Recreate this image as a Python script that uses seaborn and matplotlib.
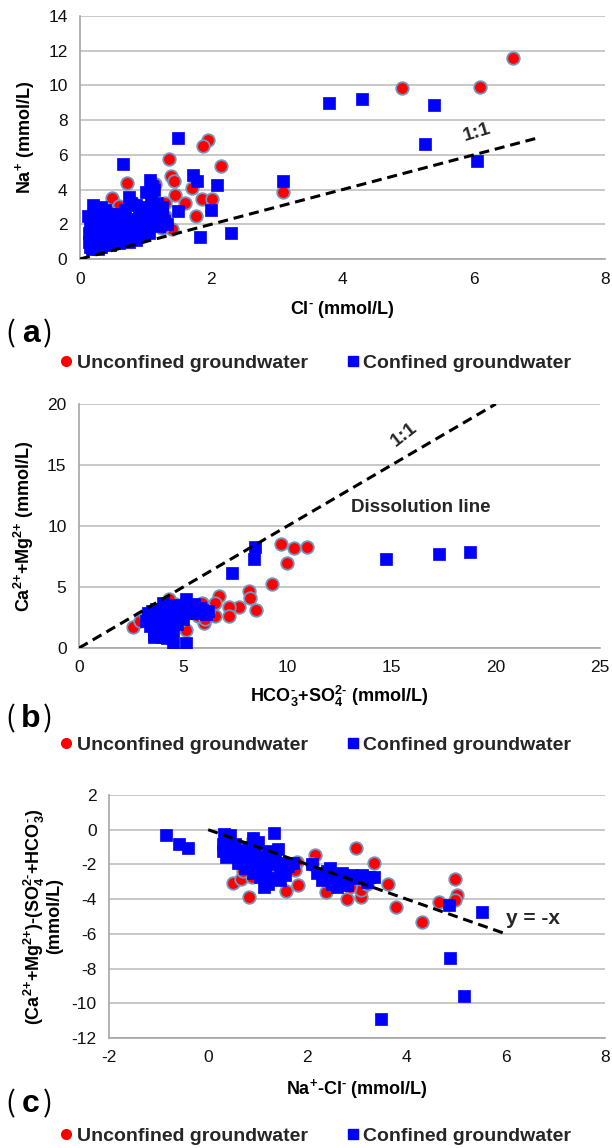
import matplotlib
matplotlib.use("Agg")
import matplotlib.pyplot as plt
from matplotlib.lines import Line2D
import seaborn as sns
import pandas as pd

# ---------------- data ----------------
# Panel (a): Cl- vs Na+
a_unconf = [(6.6, 11.6), (4.9, 9.85), (6.1, 9.9), (3.1, 3.85), (1.95, 6.85), (1.88, 6.5),
            (2.15, 5.35), (1.35, 5.75), (1.38, 4.8), (1.43, 4.5), (0.72, 4.4), (1.45, 3.7),
            (0.49, 3.5), (1.86, 3.45), (2.01, 3.45), (1.76, 2.48), (1.6, 3.25), (1.3, 3.25),
            (0.59, 3.05), (0.44, 2.75), (1.4, 1.7), (1.25, 1.8), (1.3, 2.5), (0.8, 3.25),
            (1.7, 4.1), (1.15, 4.3), (0.9, 2.1), (0.55, 1.9), (0.35, 1.5), (0.65, 2.2),
            (1.05, 2.6), (0.3, 0.9), (0.5, 1.2), (1.2, 2.2), (0.95, 1.5)]
a_conf = [(1.5, 7.0), (0.65, 5.5), (3.1, 4.5), (3.8, 9.0), (4.3, 9.2), (5.4, 8.85), (5.25, 6.6),
          (6.05, 5.65), (1.72, 4.85), (1.78, 4.5), (2.08, 4.25), (1.99, 2.85), (1.83, 1.28),
          (2.3, 1.5), (1.5, 2.75), (1.07, 4.55), (1.1, 4.2), (1.0, 3.85), (0.75, 3.6),
          (0.78, 3.25), (1.25, 2.6),
          (0.12, 2.45), (0.15, 2.0), (0.14, 1.5), (0.13, 1.0), (0.15, 0.7), (0.2, 0.85),
          (0.22, 1.3), (0.25, 1.8), (0.24, 2.3), (0.28, 2.7), (0.32, 3.0), (0.38, 2.85),
          (0.3, 1.0), (0.32, 0.7), (0.35, 1.5), (0.4, 2.0), (0.42, 1.2), (0.45, 0.8),
          (0.48, 1.7), (0.52, 2.2), (0.55, 1.0), (0.58, 1.4), (0.6, 0.9), (0.62, 1.9),
          (0.65, 1.2), (0.7, 1.6), (0.72, 2.3), (0.75, 1.0), (0.78, 1.3), (0.82, 2.0),
          (0.85, 1.1), (0.88, 1.6), (0.9, 2.6), (0.95, 1.4), (0.98, 1.8), (1.0, 2.3),
          (1.02, 3.0), (1.05, 1.5), (1.08, 3.5), (1.1, 2.0), (1.12, 4.0), (1.15, 2.6),
          (1.18, 3.2), (1.2, 1.9), (1.22, 2.4), (1.25, 3.0), (1.28, 2.2), (1.32, 2.0),
          (0.68, 2.8), (0.85, 3.1), (0.6, 2.6), (0.45, 2.6), (0.18, 0.6), (0.28, 0.55),
          (0.2, 3.1)]
a_line_x = [0, 7]
a_line_y = [0, 7]

# Panel (b): HCO3- + SO4 2- vs Ca2+ + Mg2+
b_unconf = [(9.67, 8.52), (10.3, 8.2), (10.95, 8.28), (9.98, 6.97), (9.24, 5.27), (8.18, 4.64),
            (8.2, 4.1), (8.5, 3.14), (7.66, 3.4), (7.2, 3.4), (7.19, 2.6), (6.73, 4.23),
            (6.54, 3.69), (6.54, 2.6), (5.98, 2.05), (5.7, 2.6), (5.15, 1.5), (2.6, 1.72),
            (2.95, 2.19), (5.9, 3.7), (5.4, 3.3), (4.6, 3.6), (4.3, 4.0), (3.5, 2.5),
            (6.2, 3.0), (4.9, 2.3), (3.2, 2.6), (6.06, 2.36)]
b_conf = [(18.75, 7.84), (17.27, 7.7), (14.72, 7.32), (8.46, 8.28), (8.4, 7.32), (7.32, 6.15),
          (5.15, 4.0), (5.15, 0.41), (4.5, 0.1), (4.03, 3.7), (6.08, 2.75), (6.2, 3.0),
          (5.8, 3.3), (5.5, 3.6), (5.3, 2.9), (4.9, 3.2), (4.6, 3.5), (4.3, 3.4), (4.1, 3.1),
          (3.9, 2.8), (3.7, 3.2), (3.5, 3.0), (3.3, 2.6), (3.2, 2.2), (3.4, 1.8), (3.6, 1.5),
          (3.8, 1.2), (4.0, 0.9), (4.2, 1.3), (4.4, 1.7), (4.7, 2.0), (5.0, 2.4), (3.5, 2.4),
          (3.7, 2.0), (3.9, 1.6), (4.1, 2.2), (4.3, 2.6), (4.5, 1.1), (3.6, 0.9), (3.8, 2.5),
          (4.0, 1.9), (4.2, 2.9), (4.4, 2.3), (4.6, 2.7), (4.8, 3.0), (5.6, 2.9), (5.9, 3.1),
          (3.3, 2.9), (3.6, 1.1), (4.2, 0.8)]
b_line_x = [0, 20]
b_line_y = [0, 20]

# Panel (c): Na+ - Cl- vs (Ca+Mg)-(SO4+HCO3)
c_unconf = [(2.98, -1.06), (4.97, -2.82), (3.35, -1.92), (2.16, -1.44), (3.62, -3.11),
            (3.78, -4.45), (4.32, -5.32), (4.66, -4.17), (5.02, -3.78), (4.98, -4.03),
            (2.8, -3.97), (3.08, -3.88), (3.08, -3.49), (2.38, -3.59), (1.81, -3.17),
            (1.56, -3.53), (0.51, -3.07), (0.83, -3.88), (0.66, -2.82), (0.88, -2.73),
            (1.79, -1.86), (0.9, -0.52), (2.1, -2.0), (1.75, -2.3), (2.85, -3.3),
            (3.2, -3.1), (1.2, -2.5), (0.7, -2.4), (2.6, -3.0), (1.3, -2.0)]
c_conf = [(-0.86, -0.33), (-0.58, -0.8), (-0.41, -1.04), (4.85, -4.36), (5.53, -4.74),
          (4.87, -7.37), (5.16, -9.56), (3.48, -10.92), (1.32, -0.19), (0.31, -0.23),
          (0.43, -0.33), (3.35, -2.73), (1.13, -3.3), (1.44, -2.9),
          (0.3, -0.8), (0.3, -1.2), (0.35, -1.6), (0.45, -1.0), (0.5, -1.4), (0.55, -0.8),
          (0.6, -1.9), (0.65, -1.2), (0.7, -1.6), (0.75, -2.2), (0.8, -1.0), (0.85, -1.8),
          (0.9, -2.5), (0.95, -1.4), (1.0, -2.0), (1.0, -0.7), (1.05, -2.7), (1.1, -1.6),
          (1.15, -2.3), (1.2, -1.2), (1.25, -2.0), (1.3, -2.8), (1.35, -1.6), (1.4, -1.1),
          (1.45, -2.3), (1.5, -1.9), (1.55, -2.6), (1.6, -2.1), (1.7, -1.9), (1.2, -3.1),
          (0.9, -0.5),
          (2.1, -2.0), (2.2, -2.5), (2.3, -2.9), (2.4, -2.4), (2.5, -3.1), (2.55, -2.7),
          (2.6, -3.3), (2.7, -2.5), (2.75, -2.9), (2.8, -3.2), (2.9, -2.6), (3.0, -2.8),
          (3.1, -2.6), (3.2, -3.0), (3.25, -2.7), (2.45, -2.2)]
c_line_x = [0, 6]
c_line_y = [0, -6]

a_xticks = [0, 2, 4, 6, 8]
a_yticks = [0, 2, 4, 6, 8, 10, 12, 14]
b_xticks = [0, 5, 10, 15, 20, 25]
b_yticks = [0, 5, 10, 15, 20]
c_xticks = [-2, 0, 2, 4, 6, 8]
c_yticks = [-12, -10, -8, -6, -4, -2, 0, 2]

legend_labels = ["Unconfined groundwater", "Confined groundwater"]

# ---------------- style ----------------
sns.set_theme(style="white")
plt.rcParams['font.family'] = ['Liberation Sans', 'DejaVu Sans']
plt.rcParams['mathtext.fontset'] = 'custom'
plt.rcParams['mathtext.rm'] = 'Liberation Sans'
plt.rcParams['mathtext.bf'] = 'Liberation Sans:bold'
plt.rcParams['mathtext.it'] = 'Liberation Sans:italic'
plt.rcParams['axes.unicode_minus'] = False

W, H = 612, 1148
fig = plt.figure(figsize=(W / 100, H / 100), dpi=100)
fig.patch.set_facecolor('white')

GRID = '#BFBFBF'
SPINE = '#A6A6A6'
RED_EDGE = '#7096C0'
HY = '\u2010'  # short hyphen used as superscript minus


def axes_px(l, t, r, b):
    return fig.add_axes([l / W, 1 - b / H, (r - l) / W, (b - t) / H])


def style(ax, xt, yt):
    ax.set_xticks(xt)
    ax.set_yticks(yt)
    ax.set_xlim(xt[0], xt[-1])
    ax.set_ylim(yt[0], yt[-1])
    ax.grid(axis='y', color=GRID, lw=1.2)
    ax.grid(axis='x', visible=False)
    ax.set_axisbelow(True)
    for s in ['top', 'right']:
        ax.spines[s].set_visible(False)
    for s in ['left', 'bottom']:
        ax.spines[s].set_color(SPINE)
        ax.spines[s].set_linewidth(1.2)
    ax.tick_params(direction='out', length=5, width=1.2, color=SPINE,
                   labelsize=12.5, pad=4, labelcolor='#111111')


def scatter(ax, unconf, conf):
    du = pd.DataFrame(unconf, columns=['x', 'y'])
    dc = pd.DataFrame(conf, columns=['x', 'y'])
    sns.scatterplot(data=du, x='x', y='y', ax=ax, marker='o', color='#FF0000',
                    edgecolor=RED_EDGE, linewidth=1.3, s=82, zorder=3, legend=False)
    sns.scatterplot(data=dc, x='x', y='y', ax=ax, marker='s', color='#0000FF',
                    edgecolor='#0000FF', linewidth=0.5, s=85, zorder=4, legend=False)


def dashed(ax, lx, ly):
    sns.lineplot(x=lx, y=ly, ax=ax, color='black', lw=2.2, zorder=5,
                 linestyle=(0, (3.3, 1.9)), legend=False)


def panel_tag(letter, ypx):
    fig.text(5 / W, 1 - ypx / H, '(', family='Noto Sans CJK SC', fontweight='light',
             fontsize=21, va='center', ha='left', color='black')
    fig.text(31 / W, 1 - ypx / H, letter, fontsize=23, fontweight='bold',
             va='center', ha='center', color='black')
    fig.text(43 / W, 1 - ypx / H, ')', family='Noto Sans CJK SC', fontweight='light',
             fontsize=21, va='center', ha='left', color='black')


def legend_at(ypx):
    handles = [Line2D([], [], marker='o', color='#FF0000', ls='', ms=7),
               Line2D([], [], marker='s', color='#0000FF', ls='', ms=7)]
    fig.legend(handles, legend_labels, loc='center', bbox_to_anchor=(316 / W, 1 - ypx / H),
               ncol=2, frameon=False, handlelength=0.6, handletextpad=0.25,
               columnspacing=2.0, prop={'weight': 'bold', 'size': 14})


LBL = dict(fontsize=13, fontweight='bold', color='black')
P2 = '2{+}'

# ---------------- panel a ----------------
ax = axes_px(80, 16, 605, 259)
style(ax, a_xticks, a_yticks)
dashed(ax, a_line_x, a_line_y)
scatter(ax, a_unconf, a_conf)
ax.set_xlabel('Cl$^{\\mathbf{' + HY + '}}$ (mmol/L)', labelpad=9, **LBL)
ax.set_ylabel(r'Na$^{\mathbf{+}}$ (mmol/L)', labelpad=8, **LBL)
ax.text(6.05, 7.3, '1:1', rotation=17, fontsize=14, fontweight='bold',
        ha='center', va='center')
panel_tag('a', 334)
legend_at(363)

# ---------------- panel b ----------------
ax = axes_px(79, 404, 600, 648)
style(ax, b_xticks, b_yticks)
dashed(ax, b_line_x, b_line_y)
scatter(ax, b_unconf, b_conf)
ax.set_xlabel('HCO$_{\\mathbf{3}}^{\\mathbf{' + HY + '}}$+SO$_{\\mathbf{4}}^{\\mathbf{2' + HY + '}}$ (mmol/L)',
              labelpad=6, **LBL)
ax.set_ylabel('Ca$^{\\mathbf{' + P2 + '}}$+Mg$^{\\mathbf{' + P2 + '}}$ (mmol/L)', labelpad=8, **LBL)
ax.text(15.6, 17.5, '1:1', rotation=38, fontsize=14, fontweight='bold',
        ha='center', va='center')
ax.text(16.4, 11.5, 'Dissolution line', fontsize=13.5, fontweight='bold',
        ha='center', va='center')
panel_tag('b', 719)
legend_at(745)

# ---------------- panel c ----------------
ax = axes_px(109, 795, 605, 1038)
style(ax, c_xticks, c_yticks)
dashed(ax, c_line_x, c_line_y)
scatter(ax, c_unconf, c_conf)
ax.set_xlabel('Na$^{\\mathbf{+}}$-Cl$^{\\mathbf{' + HY + '}}$ (mmol/L)', labelpad=8, **LBL)
ax.set_ylabel('(Ca$^{\\mathbf{' + P2 + '}}$+Mg$^{\\mathbf{' + P2 + '}}$)-(SO$_{\\mathbf{4}}^{\\mathbf{2' + HY +
              '}}$+HCO$_{\\mathbf{3}}^{\\mathbf{' + HY + '}}$)\n(mmol/L)',
              labelpad=6, linespacing=0.95, **LBL)
ax.text(6.0, -5.1, 'y = -x', fontsize=15, fontweight='bold', ha='left', va='center')
panel_tag('c', 1104)
legend_at(1136)

fig.savefig('out.png', dpi=100, facecolor='white')
